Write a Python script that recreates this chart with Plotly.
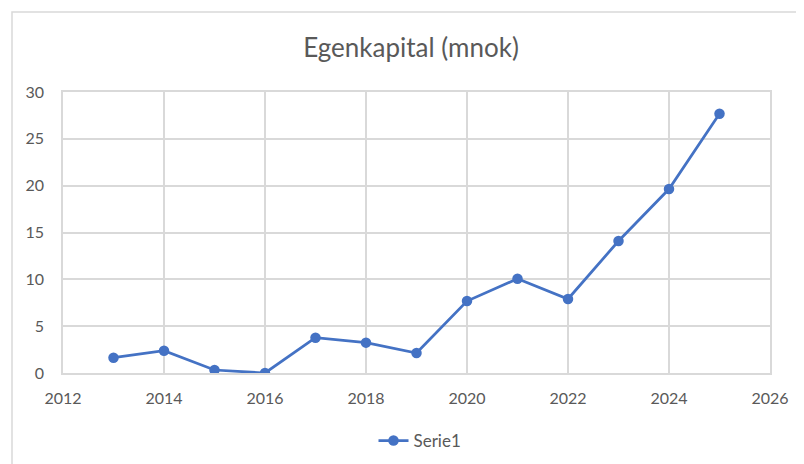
import plotly.graph_objects as go

years = [2013, 2014, 2015, 2016, 2017, 2018, 2019, 2020, 2021, 2022, 2023, 2024, 2025]
values = [1.63, 2.38, 0.32, 0.0, 3.77, 3.24, 2.13, 7.68, 10.07, 7.9, 14.09, 19.64, 27.68]
series_name = "Serie1"
title_text = "Egenkapital (mnok)"
x_ticks = [2012, 2014, 2016, 2018, 2020, 2022, 2024, 2026]
y_ticks = [0, 5, 10, 15, 20, 25, 30]

# page has an 8px body margin; work in page pixels and convert
OFF = 8
W, H = 804 - OFF, 464 - OFF
plot_left, plot_right, plot_top, plot_bottom = 63, 770, 92, 373
L = plot_left - OFF
R = W - (plot_right - OFF)
T = plot_top - OFF
B = H - (plot_bottom - OFF)
pw, ph = W - L - R, H - T - B

def px_x(p):
    return (p - OFF - L) / pw

def px_y(p):
    return (H - B - (p - OFF)) / ph

def cx(p):
    return (p - OFF) / W

def cy(p):
    return 1 - (p - OFF) / H

font_family = "Lato, 'Open Sans', sans-serif"
gray = "#595959"
grid = "#d9d9d9"

fig = go.Figure()
fig.add_trace(go.Scatter(
    x=years, y=values, mode="lines+markers", name=series_name,
    line=dict(color="#4472C4", width=2.75),
    marker=dict(color="#4472C4", size=10.5),
))

fig.update_layout(
    width=W, height=H,
    margin=dict(l=L, r=R, t=T, b=B, autoexpand=False),
    paper_bgcolor="white", plot_bgcolor="white",
    font=dict(family=font_family, color=gray, size=16),
    title=dict(text=title_text, x=cx(411), xanchor="center", xref="container",
               y=cy(48), yanchor="middle", yref="container",
               font=dict(size=26, color=gray, family=font_family)),
    showlegend=True,
    legend=dict(orientation="h", x=cx(420), xanchor="center", xref="container",
                y=cy(441), yanchor="middle", yref="container",
                font=dict(size=17, color=gray)),
    xaxis=dict(range=[2012, 2026], tickvals=x_ticks, showgrid=True, gridcolor=grid, gridwidth=1.5,
               showline=True, mirror=True, linecolor=grid, linewidth=1.5, zeroline=False,
               ticks="", tickfont=dict(size=16, color=gray), ticklabelstandoff=10),
    yaxis=dict(range=[0, 30], tickvals=y_ticks, showgrid=True, gridcolor=grid, gridwidth=1.5,
               showline=True, mirror=True, linecolor=grid, linewidth=1.5, zeroline=False,
               ticks="", tickfont=dict(size=16, color=gray), ticklabelstandoff=14),
    shapes=[dict(type="rect", xref="paper", yref="paper",
                 x0=px_x(12), x1=px_x(820), y0=px_y(480), y1=px_y(12),
                 line=dict(color=grid, width=1.5), fillcolor="rgba(0,0,0,0)", layer="below")],
)

fig.write_html("out.html")
